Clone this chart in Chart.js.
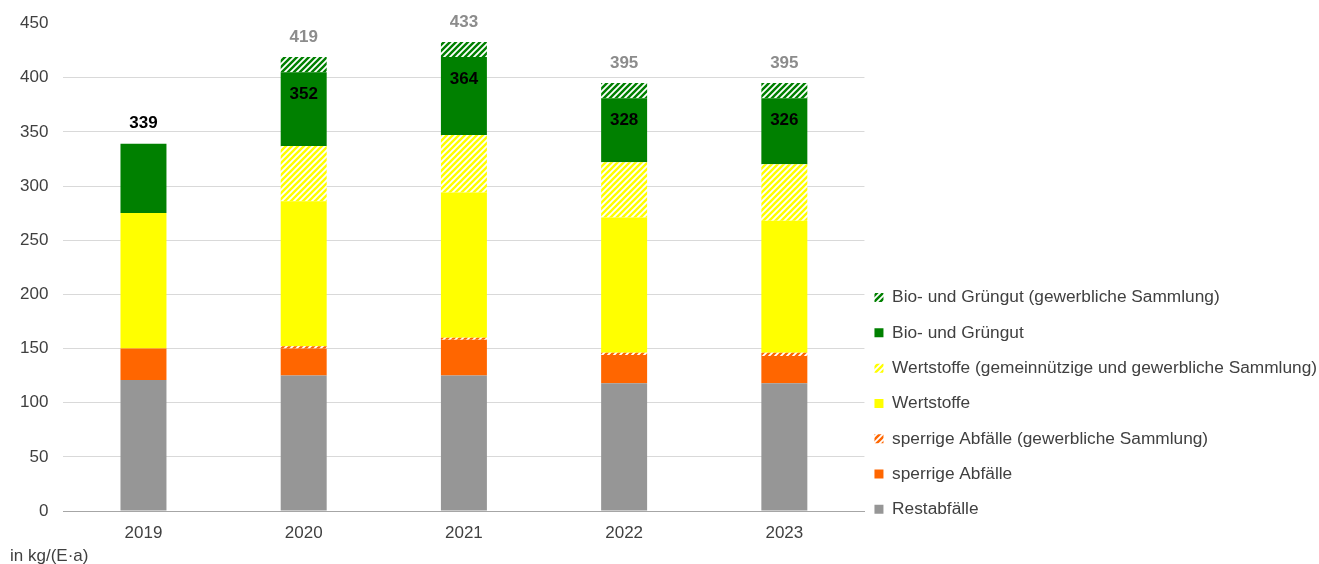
<!DOCTYPE html>
<html lang="de">
<head>
<meta charset="utf-8">
<title>Abfallaufkommen je Einwohner</title>
<script src="https://cdn.jsdelivr.net/npm/chart.js@4.4.1/dist/chart.umd.min.js"></script>
<style>
  html, body { margin: 0; padding: 0; background: #fff; }
  #wrap { position: relative; width: 1319px; height: 564px; }
  #unit {
    position: absolute; left: 10px; top: 546px;
    font: 17px "Liberation Sans", Arial, sans-serif; line-height: 20px; color: #404040;
  }
</style>
</head>
<body>
<div id="wrap">
  <canvas id="abfallChart"></canvas>
  <div id="unit">in kg/(E·a)</div>
</div>
<script>
// kg je Einwohner und Jahr
const years = ['2019', '2020', '2021', '2022', '2023'];
const restabfaelle = [121, 125, 125, 118, 118];
const sperrigeAbfaelle = [29, 25, 33, 26, 25];
const sperrigeGewerblich = [null, 2, 2, 2, 3];
const wertstoffe = [125, 134, 134, 125, 122];
const wertstoffeGewerblich = [null, 51, 53, 51, 52];
const bioGruengut = [64, 68, 72, 59, 61];
const bioGewerblich = [null, 14, 14, 14, 14];
const yTicks = [0, 50, 100, 150, 200, 250, 300, 350, 400, 450];

const FONT = '"Liberation Sans", Arial, sans-serif';
const TEXT = '#404040';

// diagonal stripes on white for the commercial collections
function hatch(color) {
  const size = 6;
  const c = document.createElement('canvas');
  c.width = size;
  c.height = size;
  const g = c.getContext('2d');
  g.fillStyle = '#ffffff';
  g.fillRect(0, 0, size, size);
  g.strokeStyle = color;
  g.lineWidth = 2.4;
  g.beginPath();
  g.moveTo(0, size); g.lineTo(size, 0);
  g.moveTo(-size / 2, size / 2); g.lineTo(size / 2, -size / 2);
  g.moveTo(size / 2, size * 1.5); g.lineTo(size * 1.5, size / 2);
  g.stroke();
  return g.createPattern(c, 'repeat');
}

const GRAU = '#969696';
const ORANGE = '#ff6600';
const GELB = '#ffff00';
const GRUEN = '#008000';

const solidSets = [0, 1, 3, 5];   // ohne gewerbliche Sammlung

const sum = (idxs, i, ds) => idxs.reduce((s, k) => s + (ds[k].data[i] || 0), 0);

// sums above / inside the bars
const summenLabels = {
  id: 'summenLabels',
  afterLayout(chart) {
    // let the year labels run below the legend's bottom edge without clipping
    chart.scales.x.bottom = chart.height;
  },
  afterDatasetsDraw(chart) {
    const ctx = chart.ctx;
    const ds = chart.data.datasets;
    const all = ds.map((d, k) => k);
    ctx.save();
    ctx.font = 'bold 17px ' + FONT;
    ctx.textAlign = 'center';
    ctx.textBaseline = 'middle';
    years.forEach((y, i) => {
      const solid = sum(solidSets, i, ds);
      const total = sum(all, i, ds);
      const green = chart.getDatasetMeta(5).data[i];
      let topIdx = 0;
      all.forEach(k => { if (ds[k].data[i]) topIdx = k; });
      const top = chart.getDatasetMeta(topIdx).data[i];
      ctx.fillStyle = '#000000';
      if (total > solid) {
        ctx.fillText(solid, green.x, green.y + 22);
        ctx.fillStyle = '#8c8c8c';
        ctx.fillText(total, top.x, top.y - 19.5);
      } else {
        ctx.fillText(solid, green.x, green.y - 20);
      }
    });
    ctx.restore();
  }
};

const ctx = document.getElementById('abfallChart').getContext('2d');
new Chart(ctx, {
  type: 'bar',
  data: {
    labels: years,
    datasets: [
      { label: 'Restabfälle', data: restabfaelle, backgroundColor: GRAU },
      { label: 'sperrige Abfälle', data: sperrigeAbfaelle, backgroundColor: ORANGE },
      { label: 'sperrige Abfälle (gewerbliche Sammlung)', data: sperrigeGewerblich, backgroundColor: hatch(ORANGE) },
      { label: 'Wertstoffe', data: wertstoffe, backgroundColor: GELB },
      { label: 'Wertstoffe (gemeinnützige und gewerbliche Sammlung)', data: wertstoffeGewerblich, backgroundColor: hatch(GELB) },
      { label: 'Bio- und Grüngut', data: bioGruengut, backgroundColor: GRUEN },
      { label: 'Bio- und Grüngut (gewerbliche Sammlung)', data: bioGewerblich, backgroundColor: hatch(GRUEN) }
    ]
  },
  options: {
    responsive: true,
    maintainAspectRatio: false,
    animation: false,
    datasets: {
      bar: { categoryPercentage: 1, barPercentage: 0.287, borderWidth: 0 }
    },
    layout: { padding: { top: 10, left: 5, right: -8, bottom: 28 } },
    scales: {
      x: {
        stacked: true,
        grid: { display: false, drawTicks: false },
        border: { display: true, color: '#a6a6a6' },
        ticks: { color: TEXT, font: { family: FONT, size: 17 }, padding: 12 },
        afterFit: axis => { axis.height = 25; }
      },
      y: {
        stacked: true,
        min: 0,
        max: 450,
        afterBuildTicks: axis => { axis.ticks = yTicks.map(v => ({ value: v })); },
        grid: {
          drawTicks: false,
          color: c => (c.tick && c.tick.value === 450) ? 'rgba(0,0,0,0)' : '#d9d9d9'
        },
        border: { display: false },
        ticks: { color: TEXT, font: { family: FONT, size: 17, lineHeight: 1 }, padding: 15 }
      }
    },
    plugins: {
      tooltip: { enabled: false },
      legend: {
        position: 'right',
        align: 'end',
        reverse: true,
        maxWidth: 480,
        labels: {
          color: TEXT,
          boxWidth: 9,
          boxHeight: 9,
          padding: 10,
          font: { family: FONT, size: 17.3, lineHeight: 25.3 / 17.3 },
          // single-line arrays so each row gets the font line height
          generateLabels: chart => Chart.defaults.plugins.legend.labels.generateLabels(chart)
            .map(item => Object.assign(item, { text: [item.text] }))
        }
      }
    }
  },
  plugins: [summenLabels]
});
</script>
</body>
</html>
